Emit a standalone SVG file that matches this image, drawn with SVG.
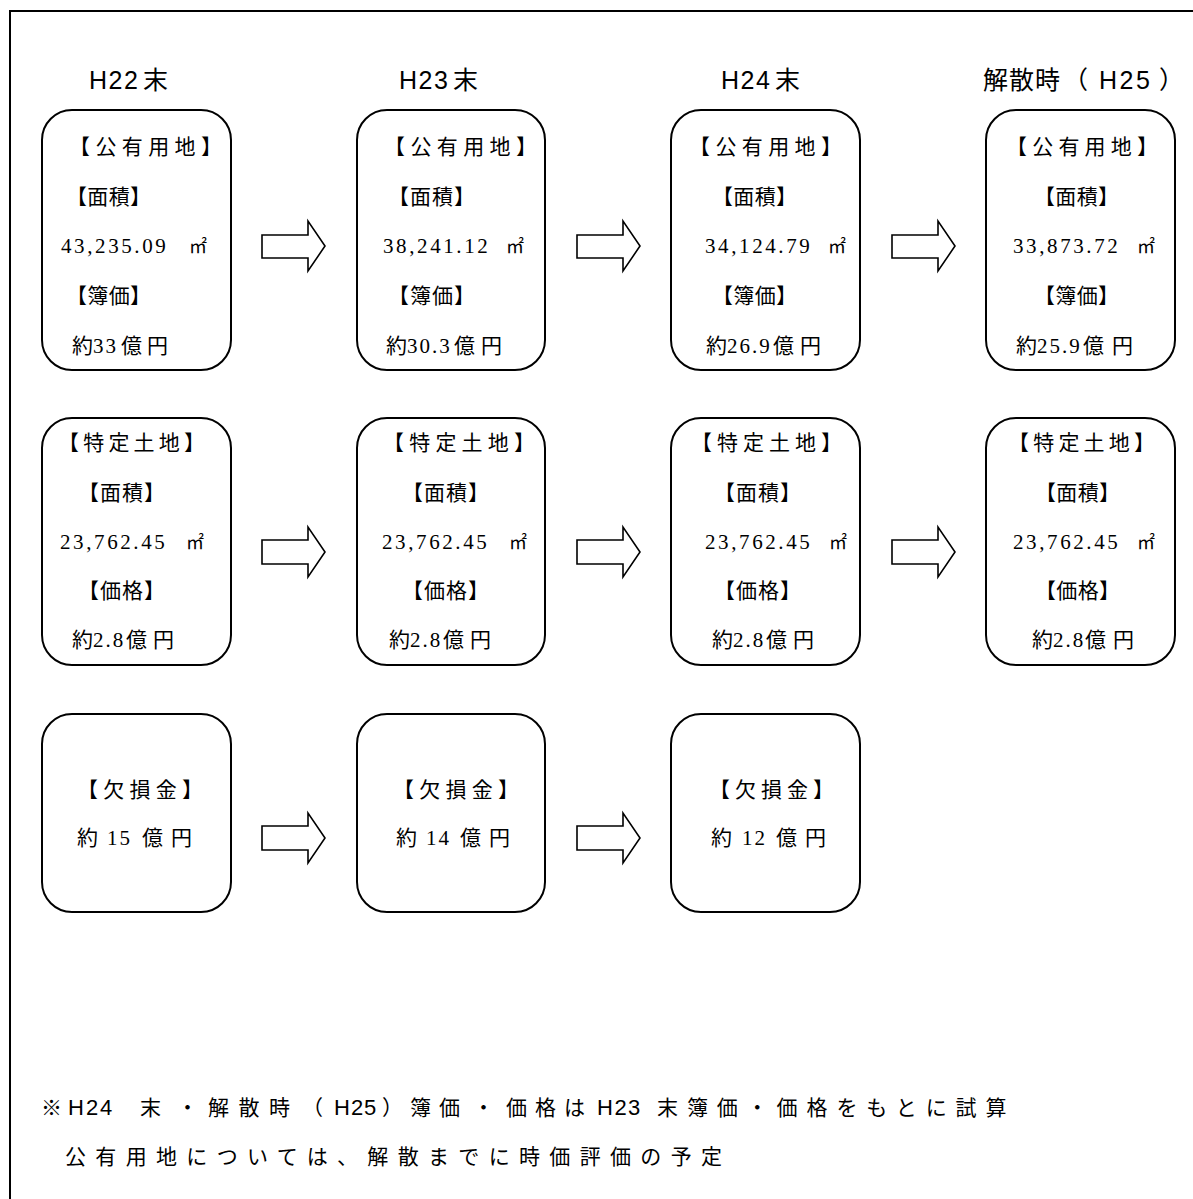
<svg xmlns="http://www.w3.org/2000/svg" width="1193" height="1199" viewBox="0 0 1193 1199">
<style>
.box{fill:#fff;stroke:#000;stroke-width:2}
.arr{fill:#fff;stroke:#000;stroke-width:1.6;stroke-linejoin:miter}
.t{font-family:"Liberation Serif","Noto Sans CJK JP",serif;font-size:21px;fill:#000}
.n{letter-spacing:2.6px}
.d{letter-spacing:2px}
.m{font-size:18px}
.h{font-family:"Liberation Sans","Noto Sans CJK JP",sans-serif;font-size:25px;fill:#000}
.hl{letter-spacing:1.5px}
.f{font-family:"Liberation Sans","Noto Sans CJK JP",sans-serif;font-size:21px;fill:#000}
.fl{font-size:22px}
</style>
<rect x="0" y="0" width="1193" height="1199" fill="#fff"/>
<path d="M10,1199 V11 H1193" fill="none" stroke="#000" stroke-width="2"/>
<g id="headers">
<text class="h" y="89"><tspan class="hl" x="89">H22</tspan><tspan x="143">末</tspan></text>
<text class="h" y="89"><tspan class="hl" x="399">H23</tspan><tspan x="453">末</tspan></text>
<text class="h" y="89"><tspan class="hl" x="721">H24</tspan><tspan x="775">末</tspan></text>
<text class="h" y="89"><tspan x="983">解</tspan><tspan x="1009">散</tspan><tspan x="1035">時</tspan><tspan x="1063">（</tspan><tspan x="1099" style="letter-spacing:2.5px">H25</tspan><tspan x="1159">）</tspan></text>
</g>
<g id="connectors">
<polygon class="arr" points="262,235 308,235 308,221 325,246 308,271 308,258 262,258"/>
<polygon class="arr" points="577,235 623,235 623,221 640,246 623,271 623,258 577,258"/>
<polygon class="arr" points="892,235 938,235 938,221 955,246 938,271 938,258 892,258"/>
<polygon class="arr" points="262,540 308,540 308,527 325,552 308,577 308,564 262,564"/>
<polygon class="arr" points="577,540 623,540 623,527 640,552 623,577 623,564 577,564"/>
<polygon class="arr" points="892,540 938,540 938,527 955,552 938,577 938,564 892,564"/>
<polygon class="arr" points="262,826 308,826 308,813 325,838 308,863 308,850 262,850"/>
<polygon class="arr" points="577,826 623,826 623,813 640,838 623,863 623,850 577,850"/>
</g>
<g id="n-r1c1">
<rect class="box" x="42" y="110" width="189" height="260" rx="30"/>
<text class="t" x="69" y="154" textLength="153" lengthAdjust="spacing">【公有用地】</text>
<text class="t" x="66" y="204" textLength="85" lengthAdjust="spacing">【面積】</text>
<text class="t" y="253"><tspan class="n" x="61">43,235.09</tspan><tspan class="m" x="189">㎡</tspan></text>
<text class="t" x="66" y="303" textLength="85" lengthAdjust="spacing">【簿価】</text>
<text class="t" y="353"><tspan x="72">約</tspan><tspan class="d" x="93">33</tspan><tspan x="121">億</tspan><tspan x="147">円</tspan></text>
</g>
<g id="n-r1c2">
<rect class="box" x="357" y="110" width="188" height="260" rx="30"/>
<text class="t" x="384" y="154" textLength="153" lengthAdjust="spacing">【公有用地】</text>
<text class="t" x="388" y="204" textLength="87" lengthAdjust="spacing">【面積】</text>
<text class="t" y="253"><tspan class="n" x="383">38,241.12</tspan><tspan class="m" x="506">㎡</tspan></text>
<text class="t" x="388" y="303" textLength="87" lengthAdjust="spacing">【簿価】</text>
<text class="t" y="353"><tspan x="386">約</tspan><tspan class="d" x="407">30.3</tspan><tspan x="454">億</tspan><tspan x="481">円</tspan></text>
</g>
<g id="n-r1c3">
<rect class="box" x="671" y="110" width="189" height="260" rx="30"/>
<text class="t" x="689" y="154" textLength="153" lengthAdjust="spacing">【公有用地】</text>
<text class="t" x="712" y="204" textLength="85" lengthAdjust="spacing">【面積】</text>
<text class="t" y="253"><tspan class="n" x="705">34,124.79</tspan><tspan class="m" x="828">㎡</tspan></text>
<text class="t" x="712" y="303" textLength="85" lengthAdjust="spacing">【簿価】</text>
<text class="t" y="353"><tspan x="706">約</tspan><tspan class="d" x="727">26.9</tspan><tspan x="773">億</tspan><tspan x="800">円</tspan></text>
</g>
<g id="n-r1c4">
<rect class="box" x="986" y="110" width="189" height="260" rx="30"/>
<text class="t" x="1006" y="154" textLength="152" lengthAdjust="spacing">【公有用地】</text>
<text class="t" x="1034" y="204" textLength="85" lengthAdjust="spacing">【面積】</text>
<text class="t" y="253"><tspan class="n" x="1013">33,873.72</tspan><tspan class="m" x="1137">㎡</tspan></text>
<text class="t" x="1034" y="303" textLength="85" lengthAdjust="spacing">【簿価】</text>
<text class="t" y="353"><tspan x="1016">約</tspan><tspan class="d" x="1037">25.9</tspan><tspan x="1083">億</tspan><tspan x="1112">円</tspan></text>
</g>
<g id="n-r2c1">
<rect class="box" x="42" y="418" width="189" height="247" rx="30"/>
<text class="t" x="58" y="450" textLength="147" lengthAdjust="spacing">【特定土地】</text>
<text class="t" x="78" y="500" textLength="87" lengthAdjust="spacing">【面積】</text>
<text class="t" y="549"><tspan class="n" x="60">23,762.45</tspan><tspan class="m" x="186">㎡</tspan></text>
<text class="t" x="78" y="598" textLength="87" lengthAdjust="spacing">【価格】</text>
<text class="t" y="647"><tspan x="72">約</tspan><tspan class="d" x="93">2.8</tspan><tspan x="126">億</tspan><tspan x="153">円</tspan></text>
</g>
<g id="n-r2c2">
<rect class="box" x="357" y="418" width="188" height="247" rx="30"/>
<text class="t" x="383" y="450" textLength="152" lengthAdjust="spacing">【特定土地】</text>
<text class="t" x="402" y="500" textLength="87" lengthAdjust="spacing">【面積】</text>
<text class="t" y="549"><tspan class="n" x="382">23,762.45</tspan><tspan class="m" x="509">㎡</tspan></text>
<text class="t" x="402" y="598" textLength="87" lengthAdjust="spacing">【価格】</text>
<text class="t" y="647"><tspan x="389">約</tspan><tspan class="d" x="410">2.8</tspan><tspan x="443">億</tspan><tspan x="470">円</tspan></text>
</g>
<g id="n-r2c3">
<rect class="box" x="671" y="418" width="189" height="247" rx="30"/>
<text class="t" x="691" y="450" textLength="151" lengthAdjust="spacing">【特定土地】</text>
<text class="t" x="714" y="500" textLength="87" lengthAdjust="spacing">【面積】</text>
<text class="t" y="549"><tspan class="n" x="705">23,762.45</tspan><tspan class="m" x="829">㎡</tspan></text>
<text class="t" x="714" y="598" textLength="87" lengthAdjust="spacing">【価格】</text>
<text class="t" y="647"><tspan x="712">約</tspan><tspan class="d" x="733">2.8</tspan><tspan x="766">億</tspan><tspan x="793">円</tspan></text>
</g>
<g id="n-r2c4">
<rect class="box" x="986" y="418" width="189" height="247" rx="30"/>
<text class="t" x="1008" y="450" textLength="147" lengthAdjust="spacing">【特定土地】</text>
<text class="t" x="1035" y="500" textLength="85" lengthAdjust="spacing">【面積】</text>
<text class="t" y="549"><tspan class="n" x="1013">23,762.45</tspan><tspan class="m" x="1137">㎡</tspan></text>
<text class="t" x="1035" y="598" textLength="85" lengthAdjust="spacing">【価格】</text>
<text class="t" y="647"><tspan x="1032">約</tspan><tspan class="d" x="1053">2.8</tspan><tspan x="1085">億</tspan><tspan x="1113">円</tspan></text>
</g>
<g id="n-r3c1">
<rect class="box" x="42" y="714" width="189" height="198" rx="30"/>
<text class="t" x="77" y="797" textLength="126" lengthAdjust="spacing">【欠損金】</text>
<text class="t" y="845"><tspan x="77">約</tspan><tspan class="d" x="107">15</tspan><tspan x="142">億</tspan><tspan x="171">円</tspan></text>
</g>
<g id="n-r3c2">
<rect class="box" x="357" y="714" width="188" height="198" rx="30"/>
<text class="t" x="393" y="797" textLength="126" lengthAdjust="spacing">【欠損金】</text>
<text class="t" y="845"><tspan x="396">約</tspan><tspan class="d" x="426">14</tspan><tspan x="460">億</tspan><tspan x="489">円</tspan></text>
</g>
<g id="n-r3c3">
<rect class="box" x="671" y="714" width="189" height="198" rx="30"/>
<text class="t" x="709" y="797" textLength="125" lengthAdjust="spacing">【欠損金】</text>
<text class="t" y="845"><tspan x="711">約</tspan><tspan class="d" x="742">12</tspan><tspan x="776">億</tspan><tspan x="805">円</tspan></text>
</g>
<g id="note">
<text class="f" y="1115"><tspan x="41">※</tspan><tspan class="fl" x="68" style="letter-spacing:2px">H24</tspan><tspan x="140">末</tspan><tspan x="177">・</tspan><tspan x="208" style="letter-spacing:9.5px">解散時</tspan><tspan x="302">（</tspan><tspan class="fl" x="334" style="letter-spacing:1px">H25</tspan><tspan x="382">）</tspan><tspan x="410">簿</tspan><tspan x="439">価</tspan><tspan x="473">・</tspan><tspan x="506">価</tspan><tspan x="535">格</tspan><tspan x="564">は</tspan><tspan class="fl" x="597" style="letter-spacing:1.5px">H23</tspan><tspan x="657" style="letter-spacing:8.9px">末簿価・価格をもとに試算</tspan></text>
<text class="f" x="65" y="1164" textLength="657" lengthAdjust="spacing">公有用地については、解散までに時価評価の予定</text>
</g>
</svg>
